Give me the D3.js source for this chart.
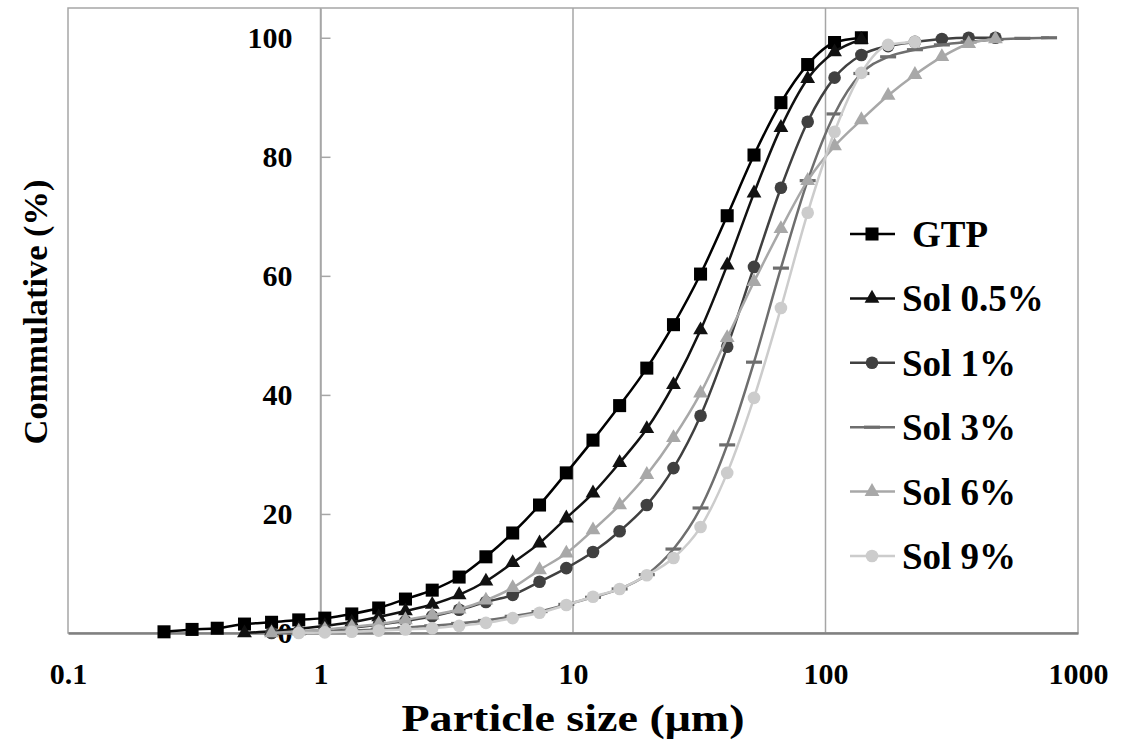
<!DOCTYPE html>
<html>
<head>
<meta charset="utf-8">
<script src="https://cdn.jsdelivr.net/npm/d3@7"></script>
<style>
  html, body { margin: 0; padding: 0; background: #fff; }
  svg { display: block; }
  text { font-family: "Liberation Serif", "Times New Roman", serif; font-weight: bold; fill: #000; }
</style>
</head>
<body>
<svg id="chart" width="1122" height="751"></svg>
<script>
// ---- data ----
const sizes = [0.24, 0.31, 0.39, 0.50, 0.64, 0.82, 1.04, 1.33, 1.70, 2.17, 2.77, 3.54, 4.52, 5.77, 7.37, 9.41,
               12.0, 15.3, 19.6, 25.0, 32.0, 40.8, 52.1, 66.6, 85.0, 108.6, 138.7, 177, 226, 289, 369, 471, 602, 768];

const gtp    = [0.2, 0.6, 0.8, 1.5, 1.8, 2.2, 2.5, 3.2, 4.2, 5.7, 7.2, 9.4, 12.8, 16.8, 21.5, 26.9,
                32.4, 38.2, 44.5, 51.8, 60.3, 70.1, 80.3, 89.1, 95.5, 99.2, 100, null, null, null, null, null, null, null];
const sol05  = [null, null, null, 0, 0.3, 0.7, 1.2, 1.8, 2.7, 3.7, 4.8, 6.4, 8.7, 11.8, 15.1, 19.3,
                23.5, 28.6, 34.3, 41.7, 50.9, 61.8, 73.9, 84.9, 93.1, 97.6, 99.7, null, null, null, null, null, null, null];
const sol1   = [null, null, null, null, 0, 0.2, 0.5, 0.9, 1.4, 2.0, 2.8, 3.9, 5.2, 6.4, 8.6, 10.9,
                13.6, 17.1, 21.5, 27.7, 36.5, 48.1, 61.5, 74.8, 85.9, 93.3, 97.1, 98.6, 99.3, 99.8, 100, 100, null, null];
const sol3   = [null, null, null, null, null, 0, 0.2, 0.4, 0.6, 0.9, 1.2, 1.6, 2.1, 2.8, 3.6, 4.8,
                6.0, 7.4, 9.8, 14.1, 21.0, 31.6, 45.5, 61.3, 76.0, 87.2, 94.0, 96.8, 98.0, 98.8, 99.3, 99.7, 99.9, 100];
const sol6   = [null, null, null, null, 0, 0.3, 0.6, 1.0, 1.5, 2.2, 3.0, 4.0, 5.5, 7.6, 10.6, 13.4,
                17.3, 21.5, 26.6, 32.8, 40.3, 49.6, 59.0, 67.9, 76.0, 81.8, 86.2, 90.3, 93.8, 96.8, 99.0, 99.8, null, null];
const sol9   = [null, null, null, null, null, 0, 0.1, 0.2, 0.4, 0.6, 0.8, 1.2, 1.7, 2.5, 3.4, 4.7,
                6.1, 7.4, 9.7, 12.6, 17.8, 26.9, 39.5, 54.6, 70.6, 84.2, 94.1, 98.8, 99.3, null, null, null, null, null];

const seriesNames = ["GTP", "Sol 0.5%", "Sol 1%", "Sol 3%", "Sol 6%", "Sol 9%"];
const seriesValues = [gtp, sol05, sol1, sol3, sol6, sol9];

const xTickValues = [0.1, 1, 10, 100, 1000];
const xTickLabels = ["0.1", "1", "10", "100", "1000"];
const yTickValues = [0, 20, 40, 60, 80, 100];
const xGridValues = [1, 10, 100];

// ---- styles ----
const colors  = ["#000000", "#111111", "#404040", "#6e6e6e", "#a8a8a8", "#cccccc"];
const markers = ["square", "triangle", "circle", "dash", "triangle", "circle"];

const svg = d3.select("#chart");
const x = d3.scaleLog().domain([0.1, 1000]).range([68, 1078]);
const y = d3.scaleLinear().domain([0, 105]).range([633, 8]);

// plot frame
svg.append("rect")
  .attr("x", x(0.1)).attr("y", y(105))
  .attr("width", x(1000) - x(0.1)).attr("height", y(0) - y(105))
  .attr("fill", "none").attr("stroke", "#a6a6a6").attr("stroke-width", 1.5);

// vertical gridlines
svg.append("g").selectAll("line").data(xGridValues).join("line")
  .attr("x1", d => x(d)).attr("x2", d => x(d))
  .attr("y1", y(105)).attr("y2", y(0))
  .attr("stroke", "#a6a6a6").attr("stroke-width", 1.5);

// y axis (crossing at x = 1)
const yAxis = d3.axisLeft(y).tickValues(yTickValues).tickFormat(d3.format("d"))
  .tickSizeInner(-10).tickSizeOuter(0).tickPadding(28);
const gy = svg.append("g").attr("transform", `translate(${x(1)},0)`).call(yAxis);
gy.select(".domain").attr("stroke", "#a6a6a6").attr("stroke-width", 1.5);
gy.selectAll(".tick line").attr("stroke", "#a6a6a6").attr("stroke-width", 1.5);
gy.selectAll(".tick text").style("font-size", "30px").style("font-family", "Liberation Serif, serif")
  .style("font-weight", "bold").attr("fill", "#000");

// x axis
const xAxis = d3.axisBottom(x).tickValues(xTickValues)
  .tickFormat((d, i) => xTickLabels[i]).tickSize(0).tickPadding(30);
const gx = svg.append("g").attr("transform", `translate(0,${y(0)})`).call(xAxis);
gx.select(".domain").attr("stroke", "#808080").attr("stroke-width", 2.5);
gx.selectAll(".tick text").style("font-size", "30px").style("font-family", "Liberation Serif, serif")
  .style("font-weight", "bold").attr("fill", "#000");

// markers
function drawMarker(g, type, color) {
  if (type === "square") {
    g.append("path").attr("d", d3.symbol(d3.symbolSquare, 170)()).attr("fill", color);
  } else if (type === "triangle") {
    g.append("path").attr("d", d3.symbol(d3.symbolTriangle, 95)()).attr("fill", color);
  } else if (type === "circle") {
    g.append("path").attr("d", d3.symbol(d3.symbolCircle, 125)()).attr("fill", color);
  } else if (type === "dash") {
    g.append("rect").attr("x", -8).attr("y", -1.6).attr("width", 16).attr("height", 3.2).attr("fill", color);
  }
}

const line = d3.line()
  .defined(d => d.v !== null)
  .x(d => x(d.s)).y(d => y(d.v))
  .curve(d3.curveMonotoneX);

seriesValues.forEach((vals, i) => {
  const pts = sizes.map((s, k) => ({ s, v: vals[k] }));
  const g = svg.append("g");
  g.append("path").datum(pts.filter(p => p.v !== null))
    .attr("d", line).attr("fill", "none")
    .attr("stroke", colors[i]).attr("stroke-width", 2.5);
  pts.filter(p => p.v !== null).forEach(p => {
    const mg = g.append("g").attr("transform", `translate(${x(p.s)},${y(p.v)})`);
    drawMarker(mg, markers[i], colors[i]);
  });
});

// legend
const legendY0 = 234, legendStep = 64.4;
seriesNames.forEach((name, i) => {
  const cy = legendY0 + i * legendStep;
  const g = svg.append("g").attr("transform", `translate(0,${cy})`);
  g.append("line").attr("x1", 850).attr("x2", 895).attr("y1", 0).attr("y2", 0)
    .attr("stroke", colors[i]).attr("stroke-width", 2.5);
  const mg = g.append("g").attr("transform", "translate(872,0)");
  drawMarker(mg, markers[i], colors[i]);
  g.append("text").attr("x", i === 0 ? 912 : 902).attr("y", 13)
    .style("font-size", "37px").text(name);
});

// axis titles
svg.append("text").attr("x", 573).attr("y", 731).attr("text-anchor", "middle")
  .attr("textLength", 343).attr("lengthAdjust", "spacingAndGlyphs")
  .style("font-size", "37px").text("Particle size (μm)");

svg.append("text").attr("transform", "translate(47,312) rotate(-90)").attr("text-anchor", "middle")
  .attr("textLength", 265).attr("lengthAdjust", "spacingAndGlyphs")
  .style("font-size", "34px").text("Commulative (%)");
</script>
</body>
</html>
